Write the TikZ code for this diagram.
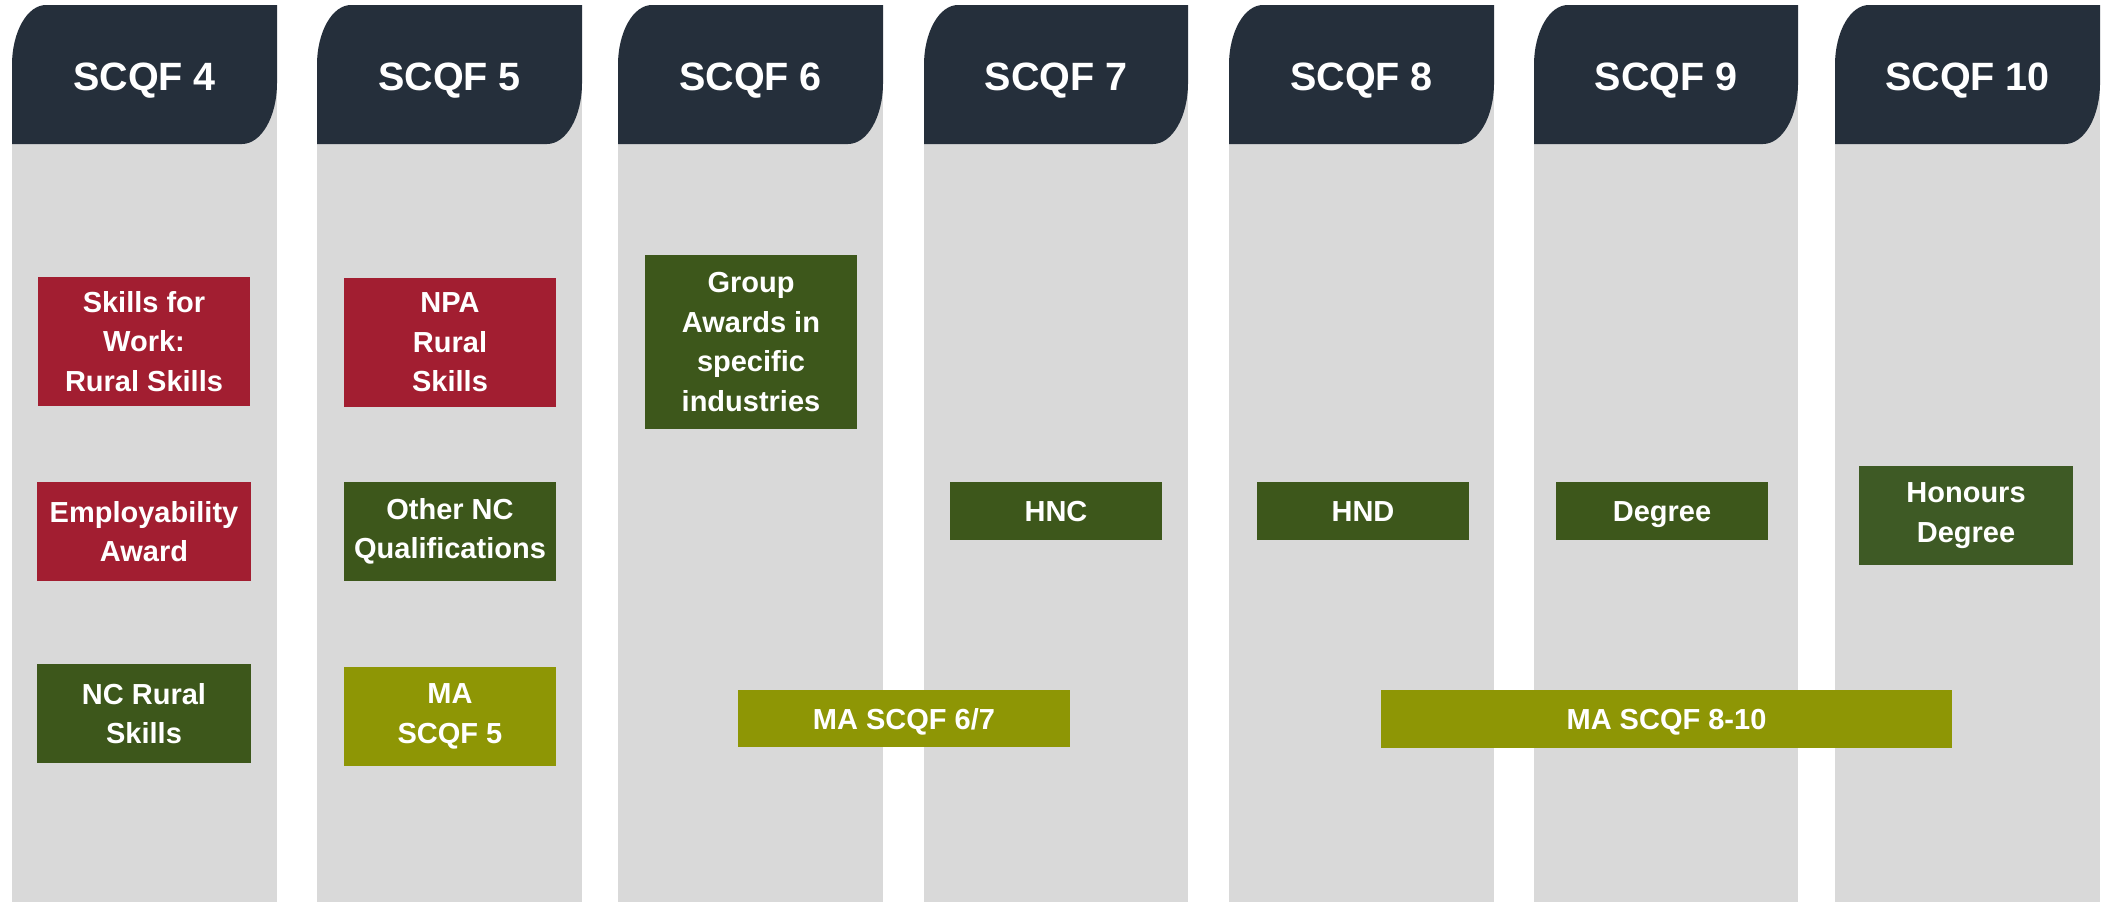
\documentclass[tikz,border=0pt]{standalone}
\usepackage{fontspec}
\setmainfont{Liberation Sans}
\definecolor{hdr}{HTML}{252F3B}
\definecolor{colgray}{HTML}{D9D9D9}
\definecolor{qred}{HTML}{A21E31}
\definecolor{qgreen}{HTML}{3D571B}
\definecolor{qgreenb}{HTML}{3E5A25}
\definecolor{qolive}{HTML}{8E9605}
\tikzset{
  qbox/.style={inner sep=0pt, align=center, text=white,
    font=\fontsize{29}{39.5}\selectfont\bfseries},
  onebox/.style={qbox, text height=21pt, text depth=0pt},
  hdrtext/.style={inner sep=0pt, text=white, anchor=base,
    font=\fontsize{39.5}{44}\selectfont\bfseries},
}
\newcommand{\levelcol}[4]{%
  % #1 left, #2 right, #3 label, #4 name
  \fill[colgray] (#1,75) rectangle (#2,902);
  \fill[hdr] (#1,144) -- (#1,65) arc[start angle=180, end angle=270, x radius=34, y radius=60]
    -- (#2,5) -- (#2,83) arc[start angle=0, end angle=90, x radius=35, y radius=61] -- cycle;
  \node[hdrtext] (#4) at ({(#1+#2)/2},90) {#3};
}
\begin{document}
\begin{tikzpicture}[x=1pt,y=-1pt]
\useasboundingbox (0,0) rectangle (2108,902);
\fill[white] (0,0) rectangle (2108,902);
\levelcol{12}{277}{SCQF 4}{h4}
\levelcol{317}{582}{SCQF 5}{h5}
\levelcol{618}{883}{SCQF 6}{h6}
\levelcol{924}{1188}{SCQF 7}{h7}
\levelcol{1229}{1494}{SCQF 8}{h8}
\levelcol{1534}{1798}{SCQF 9}{h9}
\levelcol{1835}{2100}{SCQF 10}{h10}
% SCQF 4
\node[qbox, fill=qred, minimum width=212pt, minimum height=129pt] (sfw) at (144,341.5) {Skills for\\Work:\\Rural Skills};
\node[qbox, fill=qred, minimum width=214pt, minimum height=99pt] (emp) at (144,531.5) {Employability\\Award};
\node[qbox, fill=qgreen, minimum width=214pt, minimum height=99pt] (ncr) at (144,713.5) {NC Rural\\Skills};
% SCQF 5
\node[qbox, fill=qred, minimum width=212pt, minimum height=129pt] (npa) at (450,342.5) {NPA\\Rural\\Skills};
\node[qbox, fill=qgreen, minimum width=212pt, minimum height=99pt] (onc) at (450,531.5) {Other NC\\Qualifications};
\node[qbox, fill=qolive, minimum width=212pt, minimum height=99pt] (ma5) at (450,716.5) {MA\\SCQF 5};
% SCQF 6
\node[qbox, fill=qgreen, minimum width=212pt, minimum height=174pt] (grp) at (751,342) {Group\\Awards in\\specific\\industries};
% SCQF 7-10
\node[onebox, fill=qgreen, minimum width=212pt, minimum height=58pt] (hnc) at (1056,511) {HNC};
\node[onebox, fill=qgreen, minimum width=212pt, minimum height=58pt] (hnd) at (1363,511) {HND};
\node[onebox, fill=qgreen, minimum width=212pt, minimum height=58pt] (deg) at (1662,511) {Degree};
\node[qbox, fill=qgreenb, minimum width=214pt, minimum height=99pt] (hon) at (1966,515.5) {Honours\\Degree};
% MA spans
\node[onebox, fill=qolive, minimum width=332pt, minimum height=57pt] (ma67) at (904,718.5) {MA SCQF 6/7};
\node[onebox, fill=qolive, minimum width=571pt, minimum height=58pt] (ma810) at (1666.5,719) {MA SCQF 8-10};
\end{tikzpicture}
\end{document}
